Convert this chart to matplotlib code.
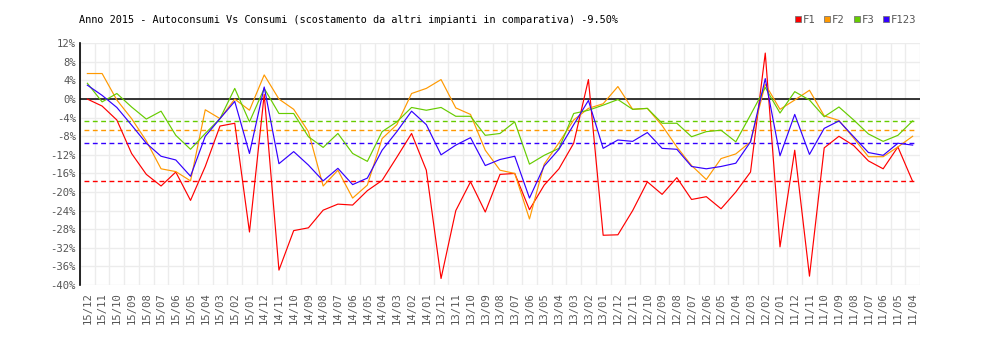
# Autoconsumi vs Consumi, monthly deviation per time band (F1, F2, F3, F123)

import matplotlib
matplotlib.use('Agg')
import matplotlib.pyplot as plt
from matplotlib.lines import Line2D
import numpy as np

months = ['15/12', '15/11', '15/10', '15/09', '15/08', '15/07', '15/06', '15/05',
          '15/04', '15/03', '15/02', '15/01', '14/12', '14/11', '14/10', '14/09',
          '14/08', '14/07', '14/06', '14/05', '14/04', '14/03', '14/02', '14/01',
          '13/12', '13/11', '13/10', '13/09', '13/08', '13/07', '13/06', '13/05',
          '13/04', '13/03', '13/02', '13/01', '12/12', '12/11', '12/10', '12/09',
          '12/08', '12/07', '12/06', '12/05', '12/04', '12/03', '12/02', '12/01',
          '11/12', '11/11', '11/10', '11/09', '11/08', '11/07', '11/06', '11/05',
          '11/04']

f1 = [0.0, -1.5, -4.5, -11.7, -16.2, -18.7, -15.7, -21.8, -14.5, -5.8,
      -5.2, -28.6, 1.0, -36.8, -28.3, -27.7, -23.9, -22.6, -22.8, -19.7,
      -17.5, -12.5, -7.4, -15.3, -38.6, -24.0, -17.8, -24.3, -16.2, -16.0,
      -23.8, -18.5, -15.0, -9.5, 4.2, -29.3, -29.2, -24.0, -17.8, -20.5,
      -16.9, -21.6, -21.0, -23.6, -20.0, -15.7, 9.9, -31.8, -11.0, -38.1,
      -10.5, -8.0, -10.0, -13.3, -15.0, -10.3, -17.7]

f2 = [5.5, 5.5, -0.2, -4.2, -9.0, -15.0, -15.6, -17.6, -2.3, -4.2,
      0.0, -2.4, 5.2, 0.0, -2.2, -7.0, -18.7, -15.3, -21.3, -18.5,
      -8.5, -5.5, 1.2, 2.3, 4.2, -1.9, -3.3, -11.0, -15.3, -16.0,
      -25.8, -14.0, -9.4, -4.5, -2.0, -1.0, 2.7, -2.2, -2.0, -5.7,
      -10.3, -14.3, -17.3, -12.8, -11.8, -9.2, 3.2, -2.2, -0.2, 1.9,
      -3.6, -4.6, -8.4, -12.4, -12.4, -10.3, -8.0]

f3 = [3.4, -0.6, 1.2, -1.7, -4.3, -2.6, -7.8, -10.8, -7.4, -4.2,
      2.3, -4.9, 2.3, -3.1, -3.1, -8.1, -10.4, -7.4, -11.7, -13.4,
      -7.0, -4.9, -1.8, -2.4, -1.8, -3.7, -3.7, -7.8, -7.4, -4.9,
      -14.0, -12.1, -10.6, -3.1, -2.4, -1.3, -0.1, -2.2, -2.0, -5.2,
      -5.2, -8.1, -7.0, -6.7, -9.2, -3.4, 2.5, -3.0, 1.6, -0.2,
      -3.8, -1.7, -4.5, -7.5, -9.1, -7.8, -4.7]

f123 = [3.0, 0.8, -1.8, -5.6, -9.5, -12.3, -13.1, -16.6, -8.0, -4.2,
        -0.5, -11.7, 2.6, -13.9, -11.3, -14.2, -17.6, -14.9, -18.4, -17.0,
        -11.0, -7.0, -2.6, -5.5, -12.0, -9.9, -8.3, -14.3, -13.0, -12.3,
        -21.3, -14.4, -10.8, -5.5, -0.3, -10.6, -8.8, -9.1, -7.2, -10.6,
        -10.8, -14.5, -15.0, -14.5, -13.8, -9.2, 4.4, -12.2, -3.3, -11.9,
        -6.3, -4.7, -8.1, -11.5, -12.1, -9.5, -9.9]

# period averages (dashed reference lines)
avg_f1 = -17.7
avg_f2 = -6.75
avg_f3 = -4.8
avg_f123 = -9.5

names = ['F1', 'F2', 'F3', 'F123']
colors = ['#ff0000', '#ff9900', '#66cc00', '#3300ff']

mono = 'DejaVu Sans Mono'
grey = '#555555'

fig = plt.figure(figsize=(10, 3.4), dpi=100, facecolor='w')
ax = fig.add_axes([0.08, 0.1618, 0.84, 0.7108])

x = np.arange(len(months))

# light grid: one column per month, one row per 4%
for xv in np.arange(-0.5, len(months), 1.0):
    ax.axvline(xv, color='#ececec', lw=1, zorder=0)
for yv in np.arange(-40, 13, 4):
    ax.axhline(yv, color='#ececec', lw=1, zorder=0)

ax.axhline(0, color='black', lw=1.1, zorder=1)

for series, avg, c in zip([f1, f2, f3, f123],
                          [avg_f1, avg_f2, avg_f3, avg_f123], colors):
    ax.plot(x, series, color=c, lw=0.85, zorder=3)
    ax.plot([-0.25, len(months) - 0.7], [avg, avg], color=c, lw=1.0,
            dashes=(3.5, 2.5), zorder=2)

ax.set_xlim(-0.5, len(months) - 0.5)
ax.set_ylim(-40, 12)

ax.set_yticks(np.arange(-40, 13, 4))
ax.set_yticklabels(['%d%%' % v for v in np.arange(-40, 13, 4)],
                   fontfamily=mono, fontsize=7.6, color=grey)
ax.set_xticks(x)
ax.set_xticklabels(months, rotation=90, fontfamily=mono, fontsize=7.6,
                   color=grey)
ax.tick_params(axis='both', length=0)
ax.tick_params(axis='y', pad=3)
ax.tick_params(axis='x', pad=5)

for side in ['top', 'right', 'bottom']:
    ax.spines[side].set_visible(False)
ax.spines['left'].set_color('black')
ax.spines['left'].set_linewidth(1.2)

fig.text(0.079, 0.941,
         'Anno 2015 - Autoconsumi Vs Consumi (scostamento da altri impianti '
         'in comparativa) -9.50%',
         fontfamily=mono, fontsize=7.4, color='black', va='center')

handles = [Line2D([], [], marker='s', ls='none', markerfacecolor=c,
                  markeredgecolor='#777777', markeredgewidth=0.6,
                  markersize=4.6) for c in colors]
fig.legend(handles, names, loc='center right', bbox_to_anchor=(0.922, 0.941),
           ncol=4, frameon=False, handletextpad=0.05, columnspacing=0.75,
           handlelength=0.8, borderpad=0,
           prop={'family': mono, 'size': 7.6}, labelcolor=grey)

fig.savefig('out.png', dpi=100)
